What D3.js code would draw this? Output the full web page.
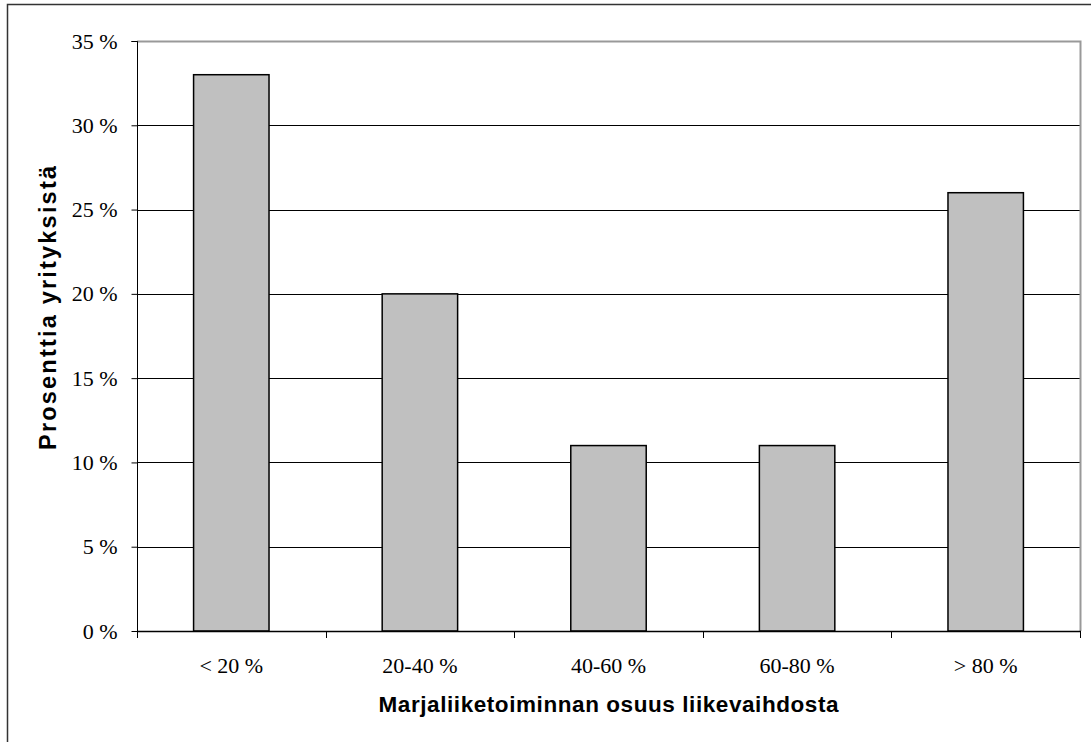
<!DOCTYPE html>
<html>
<head>
<meta charset="utf-8">
<script src="https://cdn.jsdelivr.net/npm/d3@7"></script>
<style>
  html, body { margin: 0; padding: 0; background: #fff; }
  svg { display: block; }
</style>
</head>
<body>
<svg id="chart" width="1091" height="742"></svg>
<script>
// Share of companies by berry business share of turnover
const categories = ["< 20 %", "20-40 %", "40-60 %", "60-80 %", "> 80 %"];
const values = [33, 20, 11, 11, 26];
const yTicks = [0, 5, 10, 15, 20, 25, 30, 35];
const yTitle = "Prosenttia yrityksistä";
const xTitle = "Marjaliiketoiminnan osuus liikevaihdosta";

const W = 1091, H = 742;
const plot = { left: 137, right: 1080, top: 41, bottom: 631 };
const serif = "'Liberation Serif', 'Times New Roman', serif";
const sans = "'Liberation Sans', Arial, sans-serif";

const svg = d3.select("#chart");

// outer chart frame (extends past the right and bottom edges)
svg.append("rect")
  .attr("x", 7.5).attr("y", 4.5)
  .attr("width", W + 20).attr("height", H + 20)
  .attr("fill", "#fff").attr("stroke", "#333").attr("stroke-width", 1.5);

const x = d3.scaleBand()
  .domain(categories)
  .range([plot.left, plot.right])
  .paddingInner(0.6).paddingOuter(0.3);

const y = d3.scaleLinear()
  .domain([0, 35])
  .range([plot.bottom, plot.top]);

// horizontal gridlines
svg.append("g")
  .selectAll("line")
  .data(yTicks.filter(d => d > 0 && d < 35))
  .join("line")
  .attr("x1", plot.left).attr("x2", plot.right)
  .attr("y1", d => Math.round(y(d)) + 0.5).attr("y2", d => Math.round(y(d)) + 0.5)
  .attr("stroke", "#000").attr("stroke-width", 1);

// plot-area border (top and right, grey)
svg.append("path")
  .attr("d", `M${plot.left},${plot.top + 0.5}H${plot.right + 0.5}V${plot.bottom}`)
  .attr("fill", "none").attr("stroke", "#999").attr("stroke-width", 2);

// bars
svg.append("g")
  .selectAll("rect")
  .data(values)
  .join("rect")
  .attr("x", (d, i) => x(categories[i]))
  .attr("y", d => y(d))
  .attr("width", x.bandwidth())
  .attr("height", d => y(0) - y(d))
  .attr("fill", "#c0c0c0")
  .attr("stroke", "#000").attr("stroke-width", 1.5);

// y axis
const yAxis = d3.axisLeft(y)
  .tickValues(yTicks)
  .tickSize(6)
  .tickPadding(14)
  .tickFormat(d => d + " %");
const gy = svg.append("g")
  .attr("transform", `translate(${plot.left + 0.5},0)`)
  .call(yAxis);
gy.select(".domain").attr("stroke", "#000").attr("d", `M-6,${plot.top + 0.5}H0V${plot.bottom}`);
gy.selectAll(".tick line").attr("stroke", "#000");
gy.selectAll(".tick text")
  .attr("font-family", serif)
  .attr("font-size", 22)
  .attr("fill", "#000");

// x axis: ticks at the category boundaries
const boundaries = d3.range(categories.length + 1).map(i =>
  plot.left + i * (plot.right - plot.left) / categories.length);
svg.append("line")
  .attr("x1", plot.left).attr("x2", plot.right + 1)
  .attr("y1", plot.bottom + 0.5).attr("y2", plot.bottom + 0.5)
  .attr("stroke", "#000").attr("stroke-width", 1.5);
svg.append("g")
  .selectAll("line")
  .data(boundaries)
  .join("line")
  .attr("x1", d => Math.round(d) + 0.5).attr("x2", d => Math.round(d) + 0.5)
  .attr("y1", plot.bottom).attr("y2", plot.bottom + 7)
  .attr("stroke", "#000").attr("stroke-width", 1);

svg.append("g")
  .selectAll("text")
  .data(categories)
  .join("text")
  .attr("x", d => x(d) + x.bandwidth() / 2)
  .attr("y", 673)
  .attr("text-anchor", "middle")
  .attr("font-family", serif)
  .attr("font-size", 22)
  .attr("fill", "#000")
  .text(d => d);

// axis titles
svg.append("text")
  .attr("x", (plot.left + plot.right) / 2)
  .attr("y", 712)
  .attr("text-anchor", "middle")
  .attr("font-family", sans)
  .attr("font-weight", "bold")
  .attr("font-size", 22.5)
  .attr("textLength", 460)
  .attr("lengthAdjust", "spacing")
  .attr("fill", "#000")
  .text(xTitle);

svg.append("text")
  .attr("transform", `translate(56,308) rotate(-90)`)
  .attr("text-anchor", "middle")
  .attr("font-family", sans)
  .attr("font-weight", "bold")
  .attr("font-size", 23.5)
  .attr("textLength", 284)
  .attr("lengthAdjust", "spacing")
  .attr("fill", "#000")
  .text(yTitle);
</script>
</body>
</html>
